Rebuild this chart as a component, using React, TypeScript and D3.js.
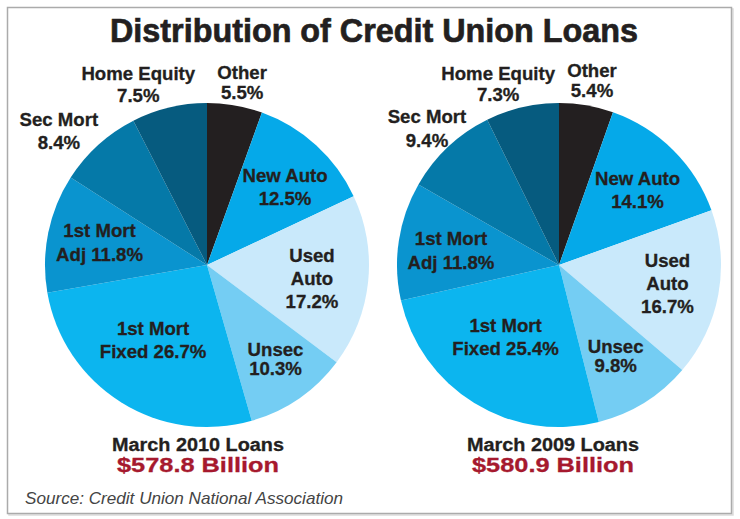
import React from "react";
import * as d3 from "d3";

// ---- data ----
const categories = ["Other", "New Auto", "Used Auto", "Unsec", "1st Mort Fixed", "1st Mort Adj", "Sec Mort", "Home Equity"];
const values2010 = [5.5, 12.5, 17.2, 10.3, 26.7, 11.8, 8.4, 7.5];
const values2009 = [5.4, 14.1, 16.7, 9.8, 25.4, 11.8, 9.4, 7.3];
const labelTemplates = [
  ["Other", "{v}"],
  ["New Auto", "{v}"],
  ["Used", "Auto", "{v}"],
  ["Unsec", "{v}"],
  ["1st Mort", "Fixed {v}"],
  ["1st Mort", "Adj {v}"],
  ["Sec Mort", "{v}"],
  ["Home Equity", "{v}"],
];
const pieTitles = ["March 2010 Loans", "March 2009 Loans"];
const pieTotals = ["$578.8 Billion", "$580.9 Billion"];
const chartTitle = "Distribution of Credit Union Loans";
const sourceText = "Source: Credit Union National Association";

// ---- styles / layout ----
const colors = ["#231f20", "#05a9e9", "#c9e9fb", "#74cdf3", "#0cb5ef", "#0a94cf", "#0579a8", "#065b7f"];
const W = 740, H = 519, R = 162;
const pieCenters = [[207, 265], [559, 265]];
const captionX = [198, 553];
// per-label placement: [angle offset from slice middle (deg), radius from centre, line gap]
const labelLayout = [
  [[1.0, 185.6, 20], [2.65, 110.4, 23.3], [1.3, 105.8, 22.8], [-1.5, 116.3, 19.6], [3.7, 92.3, 22.7], [0.4, 109.8, 23.4], [-5.7, 199.8, 23.3], [-7.3, 193.4, 21.5]],
  [[0.42, 187.2, 20], [1.5, 108.5, 23.3], [-0.85, 110, 23], [0, 107.2, 19.6], [5, 89.8, 22.7], [-0.8, 109, 23.3], [-0.8, 189.9, 23.4], [-5.4, 191.2, 21.5]],
];
const FONT = "'Liberation Sans', Arial, Helvetica, sans-serif";
const TEXT = "#231f20";

export default function App() {
  const series = [values2010, values2009];
  const pie = d3.pie<number>().sort(null).value((d) => d);
  const arc = d3.arc<d3.PieArcDatum<number>>().innerRadius(0).outerRadius(R);

  return (
    <svg width={W} height={H} style={{ position: "absolute", left: 0, top: 0, background: "#fff" }} fontFamily={FONT}>
      <rect x={0} y={0} width={W} height={H} fill="#fff" />
      <rect x={9} y={9} width={724} height={506} fill="none" stroke="#dcdcdc" strokeWidth={1.5} />
      <rect x={7.5} y={7.5} width={724} height={506} fill="#fff" stroke="#ababab" strokeWidth={1.5} />
      <text x={374} y={42} textAnchor="middle" fontSize={34} fontWeight="bold" fill={TEXT} stroke={TEXT} strokeWidth={0.7} textLength={528} lengthAdjust="spacingAndGlyphs">
        {chartTitle}
      </text>
      {series.map((vals, pi) => {
        const [cx, cy] = pieCenters[pi];
        const arcs = pie(vals);
        return (
          <g key={pi}>
            <g transform={`translate(${cx},${cy})`}>
              {arcs.map((a, i) => (
                <path key={categories[i]} d={arc(a) || ""} fill={colors[i]} />
              ))}
            </g>
            {arcs.map((a, i) => {
              const [dA, r, gap] = labelLayout[pi][i];
              const ang = (a.startAngle + a.endAngle) / 2 + (dA * Math.PI) / 180;
              const bx = cx + r * Math.sin(ang);
              const by = cy - r * Math.cos(ang);
              const lines = labelTemplates[i].map((t) => t.replace("{v}", vals[i].toFixed(1) + "%"));
              const y0 = by + 6.6 - ((lines.length - 1) * gap) / 2;
              return (
                <text key={"l" + i} textAnchor="middle" fontSize={18.6} fontWeight="bold" fill={TEXT} stroke={TEXT} strokeWidth={0.3}>
                  {lines.map((ln, k) => (
                    <tspan key={k} x={bx} y={y0 + k * gap}>{ln}</tspan>
                  ))}
                </text>
              );
            })}
            <text x={captionX[pi]} y={451} textAnchor="middle" fontSize={18} fontWeight="bold" fill={TEXT} stroke={TEXT} strokeWidth={0.3} textLength={172} lengthAdjust="spacingAndGlyphs">
              {pieTitles[pi]}
            </text>
            <text x={captionX[pi]} y={472} textAnchor="middle" fontSize={21} fontWeight="bold" fill="#a6192e" stroke="#a6192e" strokeWidth={0.3} textLength={162} lengthAdjust="spacingAndGlyphs">
              {pieTotals[pi]}
            </text>
          </g>
        );
      })}
      <text x={25} y={504} fontSize={17} fontStyle="italic" fill="#444" textLength={318} lengthAdjust="spacingAndGlyphs">
        {sourceText}
      </text>
    </svg>
  );
}
